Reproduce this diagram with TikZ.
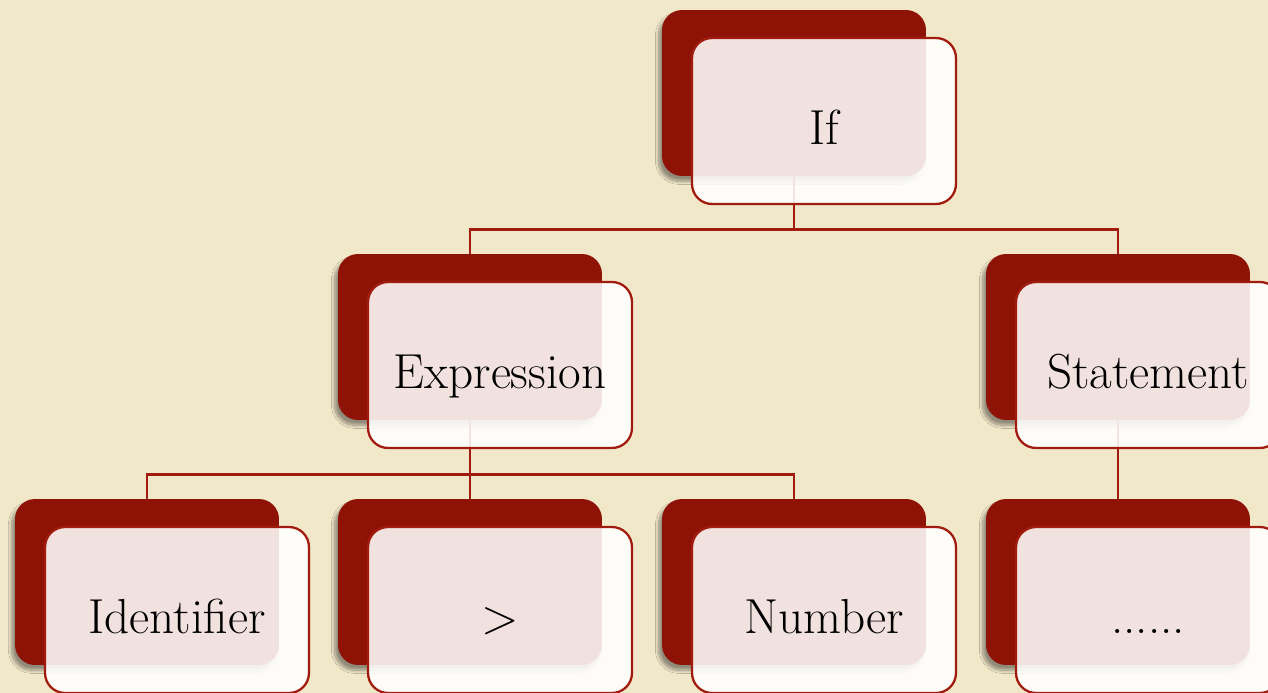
\documentclass[tikz,border=0pt]{standalone}
\usetikzlibrary{positioning, calc, shadows.blur}

\definecolor{parchment}{HTML}{F1E8CA}
\definecolor{cardred}{HTML}{8E1306}
\definecolor{linered}{HTML}{A11C0E}

\begin{document}
\begin{tikzpicture}[
    x=0.02cm, y=-0.02cm,
    back/.style={fill=cardred, rounded corners=0.4cm, minimum width=5.28cm, minimum height=3.32cm,
        blur shadow={shadow xshift=-2pt, shadow yshift=-3pt, shadow blur steps=12, shadow opacity=40}},
    front/.style={draw=linered, line width=1.3pt, fill=white, fill opacity=0.88, text opacity=1,
        rounded corners=0.4cm, minimum width=5.28cm, minimum height=3.32cm,
        text height=27pt, text depth=0pt, font=\fontsize{28}{32}\selectfont},
    link/.style={draw=linered, line width=1.4pt}
]

% Page
\useasboundingbox (0,0) rectangle (1268,693);
\fill[parchment] (0,0) rectangle (1268,693);
\clip (0,0) rectangle (1268,693);

% Back cards
\foreach \n/\x/\y in {if/794/93, expr/470/337, stmt/1118/337,
                      ident/147/582, gt/470/582, num/794/582, dots/1118/582}
  \node[back] (\n-b) at (\x,\y) {};

% Connectors
\coordinate (j1) at ($(if-b.south)+(0,53)$);
\coordinate (j2) at ($(expr-b.south)+(0,54)$);
\draw[link] (if-b.south) -- (j1);
\draw[link] (expr-b.north) |- (j1) -| (stmt-b.north);
\draw[link] (expr-b.south) -- (j2);
\draw[link] (ident-b.north) |- (j2) -| (num-b.north);
\draw[link] (j2) -- (gt-b.north);
\draw[link] (stmt-b.south) -- (dots-b.north);

% Front cards
\foreach \n/\t in {if/If, expr/Expression, stmt/Statement,
                   ident/Identifier, gt/\textgreater, num/Number, dots/{......}}
  \node[front] (\n) at ($(\n-b)+(30,28)$) {\t};

\end{tikzpicture}
\end{document}
